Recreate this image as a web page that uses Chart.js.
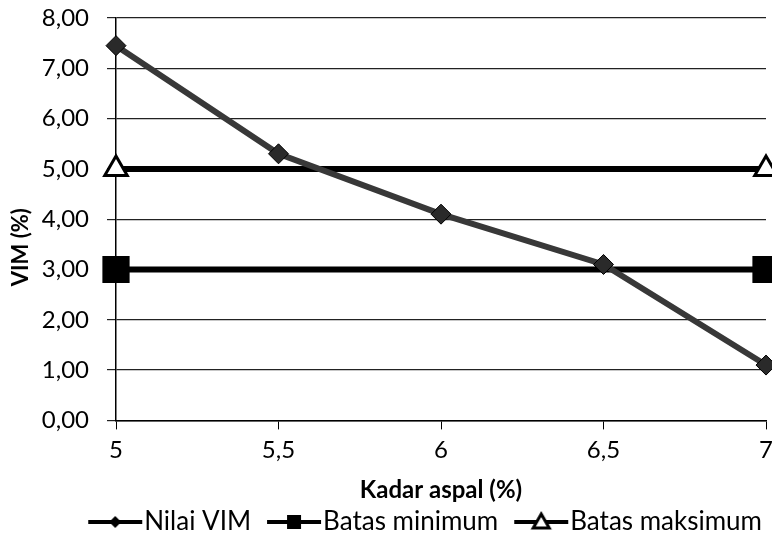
<!DOCTYPE html>
<html>
<head>
<meta charset="utf-8">
<script src="https://cdn.jsdelivr.net/npm/chart.js@4.4.0/dist/chart.umd.min.js"></script>
<style>
  html, body { margin: 0; padding: 0; background: #fff; }
  #wrap { width: 772px; height: 548px; }
</style>
</head>
<body>
<div id="wrap"><canvas id="vimChart" width="772" height="548"></canvas></div>
<script>
// data
const kadarAspal = [5, 5.5, 6, 6.5, 7];
const nilaiVIM = [7.45, 5.3, 4.1, 3.1, 1.1];
const batasX = [5, 7];
const batasMin = [3, 3];
const batasMaks = [5, 5];

const FONT = 'Lato, "Open Sans", sans-serif';
const BOX_W = 55;

function toPts(xs, ys) {
  return xs.map((x, i) => ({ x: x, y: ys[i] }));
}

// legend icon: line with the marker in the middle, shifted so it meets the text
function legendIcon(kind) {
  const c = document.createElement('canvas');
  c.width = BOX_W + 24; c.height = 24;
  const g = c.getContext('2d');
  const x0 = 24, x1 = BOX_W + 23, cx = (x0 + x1) / 2, cy = 12;
  g.strokeStyle = '#000';
  g.lineWidth = 4;
  g.beginPath(); g.moveTo(x0, cy); g.lineTo(x1, cy); g.stroke();
  g.fillStyle = '#000';
  if (kind === 'diamond') {
    g.beginPath(); g.moveTo(cx, cy - 6); g.lineTo(cx + 6, cy); g.lineTo(cx, cy + 6); g.lineTo(cx - 6, cy); g.closePath(); g.fill();
  } else if (kind === 'square') {
    g.fillRect(cx - 7, cy - 7, 14, 14);
  } else {
    g.fillStyle = '#fff'; g.lineWidth = 3;
    g.beginPath(); g.moveTo(cx, cy - 8); g.lineTo(cx + 8, cy + 6); g.lineTo(cx - 8, cy + 6); g.closePath(); g.fill(); g.stroke();
  }
  return c;
}
const icons = [legendIcon('diamond'), legendIcon('square'), legendIcon('triangle')];

// y title sits a bit below the middle in the original
const yTitle = {
  id: 'yTitle',
  afterDraw(chart) {
    const g = chart.ctx;
    const a = chart.chartArea;
    g.save();
    g.translate(21, (a.top + a.bottom) / 2 + 28);
    g.rotate(-Math.PI / 2);
    g.font = 'bold 22px ' + FONT;
    g.fillStyle = '#000';
    g.textAlign = 'center';
    g.textBaseline = 'middle';
    g.fillText('VIM (%)', 0, 0);
    g.restore();
  }
};

const ctx = document.getElementById('vimChart').getContext('2d');
new Chart(ctx, {
  type: 'line',
  data: {
    datasets: [
      {
        label: 'Nilai VIM',
        data: toPts(kadarAspal, nilaiVIM),
        borderColor: '#383838',
        borderWidth: 6,
        pointStyle: 'rectRot',
        pointRadius: 10,
        pointBackgroundColor: '#2a2a2a',
        pointBorderColor: '#000',
        pointBorderWidth: 1,
        clip: false
      },
      {
        label: 'Batas minimum',
        data: toPts(batasX, batasMin),
        borderColor: '#000',
        borderWidth: 6,
        pointStyle: 'rect',
        pointRadius: 15,
        pointBackgroundColor: '#000',
        pointBorderColor: '#000',
        clip: false
      },
      {
        label: 'Batas maksimum',
        data: toPts(batasX, batasMaks),
        borderColor: '#000',
        borderWidth: 6,
        pointStyle: 'triangle',
        pointRadius: 13,
        pointBackgroundColor: '#fff',
        pointBorderColor: '#000',
        pointBorderWidth: 3,
        clip: false
      }
    ]
  },
  options: {
    responsive: false,
    animation: false,
    layout: { autoPadding: false, padding: { top: 18, right: 6, left: 4, bottom: 3 } },
    plugins: {
      legend: {
        position: 'bottom',
        align: 'end',
        labels: {
          color: '#000',
          font: { family: FONT, size: 26 },
          usePointStyle: true,
          pointStyleWidth: BOX_W,
          padding: 4,
          generateLabels: function (chart) {
            return chart.data.datasets.map((ds, i) => ({
              text: ds.label,
              pointStyle: icons[i],
              fillStyle: '#000',
              strokeStyle: '#000',
              lineWidth: 0,
              hidden: false,
              datasetIndex: i
            }));
          }
        }
      },
      tooltip: { enabled: false }
    },
    scales: {
      x: {
        type: 'linear',
        min: 5,
        max: 7,
        afterFit: s => { s.paddingRight = 0; s.paddingLeft = 0; },
        ticks: {
          stepSize: 0.5,
          color: '#000',
          font: { family: FONT, size: 24 },
          padding: 6,
          callback: v => String(v).replace('.', ',')
        },
        grid: { drawOnChartArea: false, color: '#000', tickLength: 9 },
        border: { color: '#000', width: 1.5 },
        title: {
          display: true,
          text: 'Kadar aspal (%)',
          color: '#000',
          font: { family: FONT, size: 24, weight: 'bold' },
          padding: { top: 6, bottom: 0 }
        }
      },
      y: {
        min: 0,
        max: 8,
        afterFit: s => { s.width = 112; s.paddingTop = 0; s.paddingBottom = 0; },
        ticks: {
          stepSize: 1,
          color: '#000',
          font: { family: FONT, size: 24 },
          padding: 18,
          callback: v => v.toFixed(2).replace('.', ',')
        },
        grid: { color: '#222', lineWidth: 1.2, tickLength: 9 },
        border: { color: '#000', width: 1.5 }
      }
    }
  },
  plugins: [yTitle]
});
</script>
</body>
</html>
